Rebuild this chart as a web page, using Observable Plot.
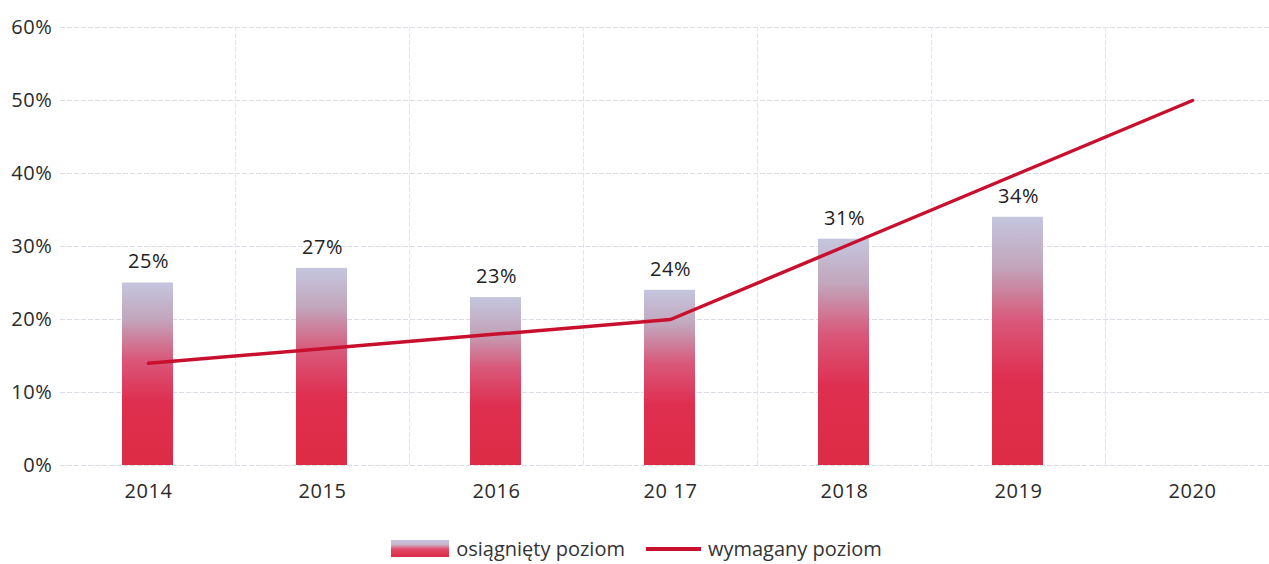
<!DOCTYPE html>
<html>
<head>
<meta charset="utf-8">
<script src="https://cdn.jsdelivr.net/npm/d3@7"></script>
<script src="https://cdn.jsdelivr.net/npm/@observablehq/plot@0.6"></script>
<style>
  body { margin: 0; background: #fff; font-family: "Open Sans", sans-serif; }
  #legend { display: flex; justify-content: center; align-items: center; gap: 7px; font-size: 20px; color: #333; margin-top: 15px; padding-left: 4px; }
  .sw { display: inline-block; }
</style>
</head>
<body>
<div id="chart"></div>
<div id="legend">
  <span class="sw" style="width:58px;height:17px;background:linear-gradient(to top,#dd2a45 0%,#e04866 45%,#c9b8cc 75%,#c4c4dc 100%);"></span>
  <span style="margin-right:14px">osiągnięty poziom</span>
  <span class="sw" style="width:55px;height:4px;background:#c8102e;"></span>
  <span>wymagany poziom</span>
</div>
<script>
const years = ["2014", "2015", "2016", "2017", "2018", "2019", "2020"];
const yearLabels = ["2014", "2015", "2016", "20 17", "2018", "2019", "2020"];
const achieved = [25, 27, 23, 24, 31, 34, null];
const required = [14, 16, 18, 20, 30, 40, 50];
const yTicks = [0, 10, 20, 30, 40, 50, 60];

const barData = years.map((y, i) => ({year: y, value: achieved[i]})).filter(d => d.value != null);
const lineData = years.map((y, i) => ({year: y, value: required[i]}));
const labelOf = new Map(years.map((y, i) => [y, yearLabels[i]]));

const plot = Plot.plot({
  width: 1269,
  height: 520,
  marginTop: 27,
  marginBottom: 55,
  marginLeft: 60,
  marginRight: 0,
  style: {fontFamily: "'Open Sans', sans-serif", fontSize: "20px", letterSpacing: "0.6px", color: "#2a2a2a", background: "transparent"},
  x: {domain: years, range: [60, 1279], padding: 0, label: null, tickSize: 0, tickPadding: 18, tickFormat: d => labelOf.get(d)},
  y: {domain: [0, 60], ticks: yTicks, label: null, tickSize: 0, tickPadding: 8, tickFormat: d => d + "%"},
  marks: [
    Plot.gridY(yTicks, {stroke: "#dcdce6", strokeOpacity: 1, strokeWidth: 1, strokeDasharray: "5,2"}),
    Plot.ruleX(years.slice(1), {x: d => d, dx: -87, stroke: "#e4e4ec", strokeWidth: 1, strokeDasharray: "5,2", y1: 0, y2: 60}),
    Plot.ruleX(["2020"], {x: d => d, dx: 87, stroke: "#e4e4ec", strokeWidth: 1, strokeDasharray: "5,2", y1: 0, y2: 60}),
    Plot.barY(barData, {x: "year", y: "value", fill: "url(#barGrad)", insetLeft: 61, insetRight: 62}),
    Plot.text(barData, {x: "year", y: "value", text: d => d.value + "%", dy: -21, fontSize: 20, fill: "#222"}),
    Plot.line(lineData, {x: "year", y: "value", stroke: "#c8102e", strokeWidth: 3.5, curve: "linear"})
  ]
});

const defs = d3.select(plot).insert("defs", ":first-child");
const g = defs.append("linearGradient").attr("id", "barGrad").attr("x1", 0).attr("y1", 1).attr("x2", 0).attr("y2", 0);
g.append("stop").attr("offset", "0%").attr("stop-color", "#dd2c44");
g.append("stop").attr("offset", "35%").attr("stop-color", "#df2f50");
g.append("stop").attr("offset", "58%").attr("stop-color", "#d9587a");
g.append("stop").attr("offset", "80%").attr("stop-color", "#c2a6bc");
g.append("stop").attr("offset", "100%").attr("stop-color", "#c4c6de");

document.getElementById("chart").appendChild(plot);
</script>
</body>
</html>
